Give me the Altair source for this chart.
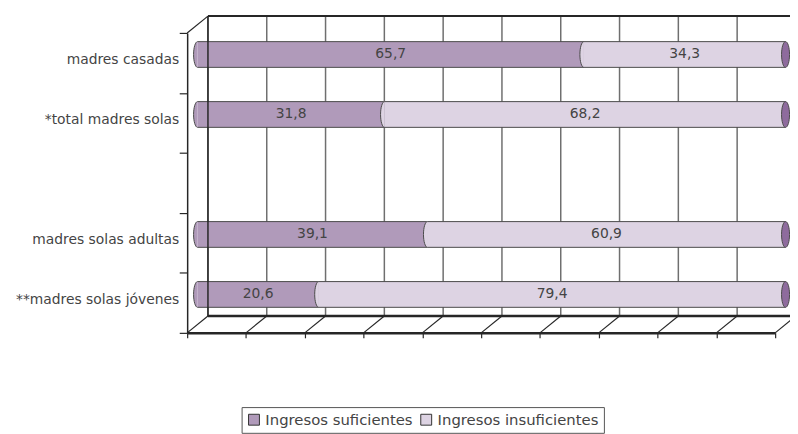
import altair as alt
import pandas as pd

# ---- data ----
categorias = ["madres casadas", "*total madres solas", "", "madres solas adultas", "**madres solas jóvenes"]
suficientes = [65.7, 31.8, None, 39.1, 20.6]
insuficientes = [34.3, 68.2, None, 60.9, 79.4]
series = ["Ingresos suficientes", "Ingresos insuficientes"]
colores = ["#b09aba", "#ddd3e3"]
color_tapa = "#8e6b9d"
ticks_x = list(range(0, 101, 10))

# ---- geometry / style ----
W, H = 594, 303
DX, DY = 21, -17            # depth of the 3D box
MX, MY = DX / 2, DY / 2     # bars sit at mid depth
BAR_H = 26
FONT = "DejaVu Sans"
TXT = "#444444"
DARK = "#262626"
NSLOT = len(categorias)

# ---- tables ----
seg_rows, cap_rows, end_rows, lab_rows = [], [], [], []
for i, (c, a, b) in enumerate(zip(categorias, suficientes, insuficientes)):
    if c:
        lab_rows.append({"cat": c, "s": i + 0.5})
    if a is None:
        continue
    segs = [(0, a, series[0], a, colores[0]), (a, a + b, series[1], b, colores[1])]
    for st, en, se, v, col in segs:
        seg_rows.append({"s": i + 0.5, "start": st, "end": en, "serie": se,
                         "label": f"{v:.1f}".replace(".", ","), "mid": (st + en) / 2})
        cap_rows.append({"s": i + 0.5, "x": st, "fill": col})
    end_rows.append({"s": i + 0.5, "x": a + b})

seg_df = pd.DataFrame(seg_rows)
cap_df = pd.DataFrame(cap_rows)
end_df = pd.DataFrame(end_rows)
lab_df = pd.DataFrame(lab_rows)
grid_df = pd.DataFrame({"v": ticks_x, "y0": 0, "y1": NSLOT})
diag_df = pd.DataFrame({"v": ticks_x + [0], "y": [NSLOT] * len(ticks_x) + [0]})
edge_df = pd.DataFrame({"x0": [0], "x1": [100], "top": [0], "bot": [NSLOT]})

xs = alt.Scale(domain=[0, 100], nice=False, zero=False)
ys = alt.Scale(domain=[0, NSLOT], nice=False, zero=False, reverse=True)
AX = alt.Axis(values=ticks_x, labels=False, grid=False, ticks=True, tickSize=5, tickWidth=1.2,
              tickColor=DARK, domainColor=DARK, domainWidth=2.5, title=None)
AY = alt.Axis(values=list(range(NSLOT + 1)), labels=False, grid=False, ticks=True, tickSize=8, tickWidth=1.2,
              tickColor=DARK, domainColor=DARK, domainWidth=1.5, title=None)


def X(f):
    return alt.X(f, scale=xs, axis=AX)


def Y(f):
    return alt.Y(f, scale=ys, axis=AY)


# half ellipse (left) and full ellipse, unit box coordinates
rx, k = 0.31, 0.5523
half = (f"M0,-1C{-k*rx:.3f},-1 {-rx},{-k} {-rx},0C{-rx},{k} {-k*rx:.3f},1 0,1")
full = half + f"C{k*rx:.3f},1 {rx},{k} {rx},0C{rx},{-k} {k*rx:.3f},-1 0,-1Z"
SYM = (BAR_H) ** 2

# back wall gridlines
grid = alt.Chart(grid_df).mark_rule(color="#6f6f6f", strokeWidth=1.5, xOffset=DX, yOffset=DY, y2Offset=DY).encode(
    x=X("v:Q"), y=Y("y0:Q"), y2="y1:Q")
back_top = alt.Chart(edge_df).mark_rule(color=DARK, strokeWidth=2, xOffset=DX, x2Offset=DX, yOffset=DY).encode(
    x=X("x0:Q"), x2="x1:Q", y=Y("top:Q"))
back_bot = alt.Chart(edge_df).mark_rule(color=DARK, strokeWidth=2.5, xOffset=DX, x2Offset=DX, yOffset=DY).encode(
    x=X("x0:Q"), x2="x1:Q", y=Y("bot:Q"))
diag = alt.Chart(diag_df).mark_rule(color=DARK, strokeWidth=1.2, x2Offset=DX, y2Offset=DY).encode(
    x=X("v:Q"), x2="v:Q", y=Y("y:Q"), y2="y:Q")

bars = alt.Chart(seg_df).mark_rect(xOffset=MX, x2Offset=MX, yOffset=MY - BAR_H / 2, y2Offset=MY + BAR_H / 2).encode(
    x=X("start:Q"), x2="end:Q",
    y=Y("s:Q"), y2="s:Q",
    color=alt.Color("serie:N", scale=alt.Scale(domain=series, range=colores),
                    legend=alt.Legend(title=None, orient="none", direction="horizontal",
                                      legendX=55, legendY=378)),
)
edge_t = alt.Chart(seg_df).mark_rule(color="#4a4a4a", strokeWidth=1, xOffset=MX, x2Offset=MX, yOffset=MY - BAR_H / 2).encode(
    x=X("start:Q"), x2="end:Q", y=Y("s:Q"))
edge_b = alt.Chart(seg_df).mark_rule(color="#4a4a4a", strokeWidth=1, xOffset=MX, x2Offset=MX, yOffset=MY + BAR_H / 2).encode(
    x=X("start:Q"), x2="end:Q", y=Y("s:Q"))
caps = alt.Chart(cap_df).mark_point(shape=half, size=SYM, filled=True, opacity=1, stroke="#4a4a4a", strokeWidth=1,
                                    xOffset=MX, yOffset=MY).encode(
    x=X("x:Q"), y=Y("s:Q"), fill=alt.Fill("fill:N", scale=None))
endcap = alt.Chart(end_df).mark_point(shape=full, size=SYM, filled=True, opacity=1, fill=color_tapa, stroke="#4a4a4a",
                                      strokeWidth=1, xOffset=MX, yOffset=MY).encode(
    x=X("x:Q"), y=Y("s:Q"))
vals = alt.Chart(seg_df).mark_text(font=FONT, fontSize=14, color=TXT, dx=MX, dy=MY).encode(
    x=X("mid:Q"), y=Y("s:Q"), text="label:N")
back_left = alt.Chart(grid_df.head(1)).mark_rule(color=DARK, strokeWidth=1.5, xOffset=DX, yOffset=DY, y2Offset=DY).encode(
    x=X("v:Q"), y=Y("y0:Q"), y2="y1:Q")
cats = alt.Chart(lab_df).mark_text(font=FONT, fontSize=14, color=TXT, align="right", dx=-8, dy=-3).encode(
    x=alt.value(0), y=Y("s:Q"), text="cat:N")

chart = alt.layer(grid, back_top, back_bot, diag, bars, edge_t, edge_b, caps, endcap, vals, back_left, cats).properties(
    width=W, height=H,
    autosize=alt.AutoSizeParams(type="none"),
    padding={"left": 181, "top": 23, "right": 15, "bottom": 100},
    background="white",
).configure_view(stroke=None).configure_legend(
    strokeColor="#555", padding=5, symbolType="square", symbolSize=121, symbolStrokeColor="#333",
    symbolStrokeWidth=1, labelFont=FONT, labelFontSize=15, labelColor=TXT, labelOffset=4, columnPadding=6,
    symbolOpacity=1, labelLimit=0,
)

chart.save("out.html", embed_options={"renderer": "svg", "actions": False})
